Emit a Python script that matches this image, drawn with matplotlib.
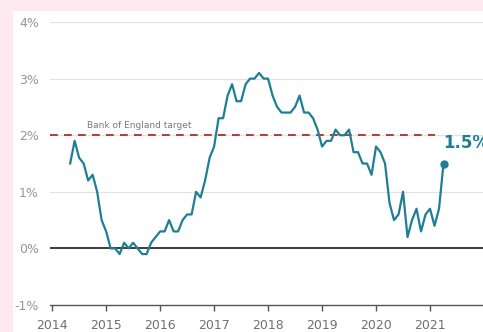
import numpy as np
import matplotlib.pyplot as plt

# UK CPI annual rate, monthly from May 2014 to April 2021
start_year = 2014
start_month = 5
cpi = [1.5, 1.9, 1.6, 1.5, 1.2, 1.3, 1.0, 0.5,
       0.3, 0.0, 0.0, -0.1, 0.1, 0.0, 0.1, 0.0, -0.1, -0.1, 0.1, 0.2,
       0.3, 0.3, 0.5, 0.3, 0.3, 0.5, 0.6, 0.6, 1.0, 0.9, 1.2, 1.6,
       1.8, 2.3, 2.3, 2.7, 2.9, 2.6, 2.6, 2.9, 3.0, 3.0, 3.1, 3.0,
       3.0, 2.7, 2.5, 2.4, 2.4, 2.4, 2.5, 2.7, 2.4, 2.4, 2.3, 2.1,
       1.8, 1.9, 1.9, 2.1, 2.0, 2.0, 2.1, 1.7, 1.7, 1.5, 1.5, 1.3,
       1.8, 1.7, 1.5, 0.8, 0.5, 0.6, 1.0, 0.2, 0.5, 0.7, 0.3, 0.6,
       0.7, 0.4, 0.7, 1.5]
years = [2014, 2015, 2016, 2017, 2018, 2019, 2020, 2021]
yticks = [-1, 0, 1, 2, 3, 4]
target = 2.0

teal = "#1e7f94"
pink = "#fde9ef"

t = start_year + (start_month - 1 + np.arange(len(cpi))) / 12.0

fig = plt.figure(figsize=(4.83, 3.32), dpi=100)
fig.patch.set_facecolor(pink)

# white panel behind the chart
bg = fig.add_axes([13 / 483, 0, 1, 1 - 11 / 332])
bg.set_axis_off()
bg.add_patch(plt.Rectangle((0, 0), 1, 1, transform=bg.transAxes,
                           facecolor="white", edgecolor="none"))
bg.set_zorder(0)

ax = fig.add_axes([50 / 483, 27 / 332, 434 / 483, 283 / 332])
ax.set_zorder(1)
ax.set_facecolor("none")
ax.set_xlim(2013.96, 2022.0)
ax.set_ylim(-1, 4)

for v in yticks[2:]:
    ax.axhline(v, color="#e2e2e2", lw=0.9, zorder=1)
ax.axhline(0, color="#3a3a3a", lw=1.4, zorder=2)

ax.plot([2013.96, 2021.1], [target, target], color="#b23b3b", lw=1.4,
        dashes=(4, 3.2), zorder=3)
ax.text(2014.65, target + 0.1, "Bank of England target", fontsize=6.5,
        color="#7a7a7a", va="bottom", ha="left")

ax.plot(t, cpi, color=teal, lw=1.6, zorder=4, solid_joinstyle="round")
ax.plot(t[-1], cpi[-1], "o", color=teal, ms=5, zorder=5)
ax.text(t[-1], cpi[-1] + 0.37, f"{cpi[-1]:.1f}%", color=teal, fontsize=12,
        fontweight="bold", va="center", ha="left", clip_on=False)

for s in ["top", "right", "left"]:
    ax.spines[s].set_visible(False)
ax.spines["bottom"].set_color("#555555")
ax.spines["bottom"].set_linewidth(1.0)

ax.set_xticks(years)
ax.set_xticklabels([str(y) for y in years])
ax.set_yticks(yticks)
ax.set_yticklabels([f"{v}%" for v in yticks])
ax.tick_params(axis="x", length=4, width=1, color="#555555", labelsize=9,
               labelcolor="#707070", pad=6)
ax.tick_params(axis="y", length=0, labelsize=9, labelcolor="#959595", pad=8)

fig.savefig("out.png", dpi=100, facecolor=pink)
